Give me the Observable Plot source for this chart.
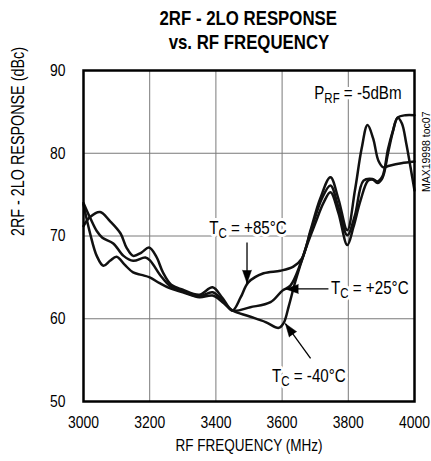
<!DOCTYPE html>
<html><head><meta charset="utf-8">
<script src="https://cdn.jsdelivr.net/npm/d3@7"></script>
<script src="https://cdn.jsdelivr.net/npm/@observablehq/plot@0.6"></script>
<style>
body{margin:0;background:#fff;}
#title{width:331px;margin-left:83px;height:60px;box-sizing:border-box;padding-top:6px;text-align:center;font-family:"Liberation Sans",Arial,sans-serif;font-weight:bold;font-size:20.5px;line-height:24px;color:#000;}
#title span{display:inline-block;transform:scaleX(0.82);transform-origin:center;white-space:nowrap;}
</style></head><body>
<div id="title"><span>2RF - 2LO RESPONSE</span><br><span>vs. RF FREQUENCY</span></div>
<div id="chart"></div>
<script>
// ---- data ----
const xTicks = [3000, 3200, 3400, 3600, 3800, 4000];
const yTicks = [50, 60, 70, 80, 90];
const xGrid = [3200, 3400, 3600, 3800];
const yGrid = [60, 70, 80];

const freqM40 = [3000,3020,3040,3060,3080,3100,3125,3150,3175,3200,3230,3260,3300,3350,3390,3420,3450,3500,3550,3590,3605,3620,3640,3670,3700,3725,3746,3770,3797,3815,3837,3860,3875,3888,3903,3920,3934,3949,3962,3975,3988,4000];
const respM40 = [73.8,70.3,67.6,66.4,67.0,67.5,66.5,65.6,65.3,65.0,64.3,63.7,63.2,62.6,62.8,62.0,61.0,60.3,59.6,58.9,59.5,61.5,64.5,68.3,71.5,74.0,75.3,72.8,68.9,71.0,74.3,76.7,76.8,76.4,77.0,80.0,82.5,84.3,83.6,81.2,78.3,75.5];

const freqP25 = [3000,3020,3050,3080,3112,3130,3150,3175,3198,3220,3240,3265,3300,3350,3390,3420,3450,3504,3565,3601,3625,3656,3690,3720,3746,3770,3797,3820,3846,3873,3888,3903,3920,3934,3949,3973,4000];
const respP25 = [71.2,72.3,72.9,71.8,70.3,68.6,67.6,68.0,68.6,67.5,65.6,64.1,63.5,62.9,63.8,62.5,61.0,61.4,62.0,63.4,64.0,66.7,71.0,74.5,76.1,73.5,70.1,72.5,76.7,76.9,76.6,77.2,80.5,82.6,84.3,84.6,84.6];

const freqP85 = [3000,3020,3040,3057,3090,3121,3150,3187,3202,3233,3263,3300,3350,3390,3420,3450,3475,3498,3544,3595,3634,3660,3686,3715,3746,3770,3797,3820,3840,3858,3875,3891,3906,3924,3960,4000];
const respP85 = [74.0,72.2,70.6,69.8,69.1,67.6,67.0,67.4,67.0,65.2,63.9,63.3,62.7,63.2,62.2,61.0,62.6,64.4,65.5,65.8,66.3,67.3,70.7,74.5,77.1,74.5,70.7,75.5,80.5,83.4,81.8,79.1,78.3,78.5,78.8,79.0];

const labelText = ["T{C} = +85°C", "T{C} = +25°C", "T{C} = -40°C", "P{RF} = -5dBm"];
const labelFreq = [3497, 3865, 3681, 3829];
const labelResp = [71.0, 63.7, 53.1, 87.3];

const arrowFrom = [[3494, 69.2], [3740, 63.6], [3686, 55.2]];
const arrowTo   = [[3494, 64.3], [3610, 63.6], [3610, 59.4]];
const arrowAngle = [180, 270, 324.5];

// ---- build tables ----
const series = [
  {temp: "-40", f: freqM40, v: respM40},
  {temp: "+25", f: freqP25, v: respP25},
  {temp: "+85", f: freqP85, v: respP85}
];
const rows = series.flatMap(s => s.f.map((f, i) => ({temp: s.temp, f, v: s.v[i]})));
const labels = labelText.map((t, i) => ({t, x: labelFreq[i], y: labelResp[i]}));
const arrows = arrowFrom.map((a, i) => ({x1: a[0], y1: a[1], x2: arrowTo[i][0], y2: arrowTo[i][1], angle: arrowAngle[i]}));

const font = '"Liberation Sans",Arial,sans-serif';

const chart = Plot.plot({
  width: 431, height: 401,
  marginTop: 10, marginBottom: 60, marginLeft: 83, marginRight: 17,
  style: {fontFamily: font, fontSize: "17px", color: "#000", background: "#fff", overflow: "visible"},
  x: {domain: [3000, 4000], ticks: xTicks, tickSize: 0, tickPadding: 14, label: null, tickFormat: "d"},
  y: {domain: [50, 90], ticks: yTicks, tickSize: 0, tickPadding: 18, label: null, tickFormat: "d"},
  marks: [
    Plot.ruleX(xGrid, {stroke: "#7a7a7a", strokeWidth: 1}),
    Plot.ruleY(yGrid, {stroke: "#7a7a7a", strokeWidth: 1}),
    Plot.line(rows, {x: "f", y: "v", z: "temp", stroke: "#111", strokeWidth: 2.5, curve: "catmull-rom"}),
    Plot.text(labels, {x: "x", y: "y", text: "t", fontSize: 18.5, fill: "black", stroke: "white", strokeWidth: 6, textAnchor: "middle"}),
    Plot.link(arrows, {x1: "x1", y1: "y1", x2: "x2", y2: "y2", stroke: "black", strokeWidth: 1.3}),
    Plot.vector(arrows, {x: "x2", y: "y2", rotate: "angle", length: 13, r: 4.5, shape: "spike", anchor: "end", fill: "black", stroke: "black", strokeWidth: 0.5}),
    Plot.text(["RF FREQUENCY (MHz)"], {text: d => d, frameAnchor: "bottom", dy: 49, fontSize: 16.5}),
    Plot.text(["2RF - 2LO RESPONSE (dBc)"], {text: d => d, frameAnchor: "left", dx: -65, rotate: -90, fontSize: 17.5}),
    Plot.text(["MAX19998 toc07"], {text: d => d, frameAnchor: "top-right", dx: 8, dy: 41, rotate: -90, fontSize: 10.5}),
    Plot.frame({stroke: "black", strokeWidth: 2.5})
  ]
});

// subscripts: "X{sub}" -> tspans
const NS = "http://www.w3.org/2000/svg";
chart.querySelectorAll("text").forEach(t => {
  if (t.children.length === 0 && /\{.+?\}/.test(t.textContent)) {
    const parts = t.textContent.split(/(\{.+?\})/).filter(p => p);
    t.textContent = "";
    let shifted = false;
    for (const p of parts) {
      const ts = document.createElementNS(NS, "tspan");
      if (p.startsWith("{")) {
        ts.textContent = p.slice(1, -1);
        ts.setAttribute("font-size", "14");
        ts.setAttribute("dy", "4");
        shifted = true;
      } else {
        ts.textContent = p;
        if (shifted) { ts.setAttribute("dy", "-4"); shifted = false; }
      }
      t.appendChild(ts);
    }
  }
});

// condense text (Helvetica-Narrow-like look), keeping each text's anchor fixed
const SQUEEZE = 0.82;
chart.querySelectorAll("text").forEach(t => {
  if (t.textContent === "MAX19998 toc07") return;
  const ax = (parseFloat(t.getAttribute("x")) || 0) + (parseFloat(t.getAttribute("dx")) || 0);
  const tr = t.getAttribute("transform") || "";
  t.setAttribute("transform", `${tr} translate(${ax},0) scale(${SQUEEZE},1) translate(${-ax},0)`.trim());
});

document.getElementById("chart").appendChild(chart);
</script>
</body></html>
